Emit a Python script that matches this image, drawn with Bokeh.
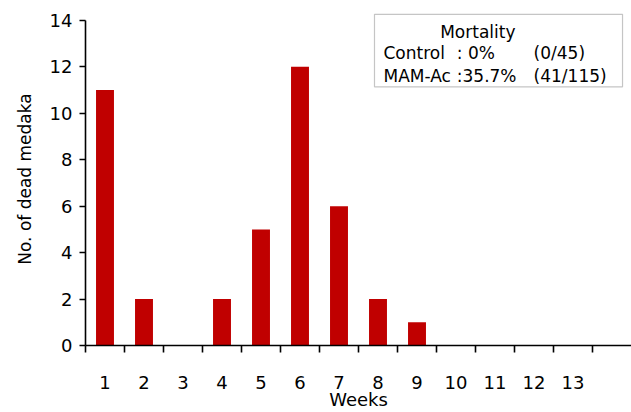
from bokeh.plotting import figure
from bokeh.models import Range1d, FixedTicker, Label, BoxAnnotation, ColumnDataSource
from bokeh.embed import file_html
from bokeh.resources import INLINE

weeks = list(range(1, 14))
dead = [11, 2, 0, 2, 5, 12, 6, 2, 1, 0, 0, 0, 0]
y_ticks = [0, 2, 4, 6, 8, 10, 12, 14]
legend_title = "Mortality"
groups = ["Control", "MAM-Ac"]
rates = [": 0%", ":35.7%"]
counts = ["(0/45)", "(41/115)"]
x_title = "Weeks"

FONT = "DejaVu Sans"
BAR = "#C00000"

p = figure(width=631, height=412, output_backend="svg", toolbar_location=None,
           x_range=Range1d(0.5, 14.5), y_range=Range1d(0, 14.34),
           min_border_left=85, min_border_right=0, min_border_top=12, min_border_bottom=64)
p.outline_line_color = None
p.xgrid.visible = False
p.ygrid.visible = False

src = ColumnDataSource(dict(x=weeks, top=dead))
p.vbar(x="x", top="top", width=0.46, bottom=0, source=src, fill_color=BAR, line_color=None)

xa = p.xaxis[0]
xa.ticker = FixedTicker(ticks=weeks, minor_ticks=[w - 0.5 for w in weeks] + [13.5])
xa.major_tick_out = 0
xa.major_tick_in = 0
xa.minor_tick_out = 7
xa.minor_tick_in = 0
xa.axis_line_width = 1.6
xa.minor_tick_line_width = 1.6
xa.major_label_standoff = 23
xa.major_label_text_font = FONT
xa.major_label_text_font_size = "18px"
xa.major_label_text_color = "black"
xa.axis_label = x_title
xa.axis_label_text_font = FONT
xa.axis_label_text_font_size = "18px"
xa.axis_label_text_font_style = "normal"
xa.axis_label_text_color = "black"
xa.axis_label_standoff = -3
xa.bounds = (0.5, 14.5)

ya = p.yaxis[0]
ya.ticker = FixedTicker(ticks=y_ticks)
ya.bounds = (0, 14)
ya.major_tick_out = 6
ya.major_tick_in = 0
ya.minor_tick_out = 0
ya.minor_tick_in = 0
ya.axis_line_width = 1.6
ya.major_tick_line_width = 1.6
ya.major_label_standoff = 7
ya.major_label_text_font = FONT
ya.major_label_text_font_size = "18px"
ya.major_label_text_color = "black"
ya.axis_label = "No. of dead medaka"
ya.axis_label_text_font = FONT
ya.axis_label_text_font_size = "17px"
ya.axis_label_text_font_style = "normal"
ya.axis_label_text_color = "black"
ya.axis_label_standoff = 12

# Mortality box
p.add_layout(BoxAnnotation(left=7.91, right=14.27, bottom=11.14, top=14.26,
                           fill_color="white", fill_alpha=1.0,
                           line_color="#404040", line_width=1.2))

def lab(x, y, t, align="left"):
    p.add_layout(Label(x=x, y=y, text=t, text_font=FONT, text_font_size="17px",
                       text_align=align, text_baseline="middle", text_color="black"))

lab(10.56, 13.49, legend_title, "center")
row_y = [12.59, 11.61]
for g, r, c, yy in zip(groups, rates, counts, row_y):
    lab(8.14, yy, g)
    lab(10.02, yy, r)
    lab(11.99, yy, c)

open("out.html", "w").write(file_html(p, INLINE))
